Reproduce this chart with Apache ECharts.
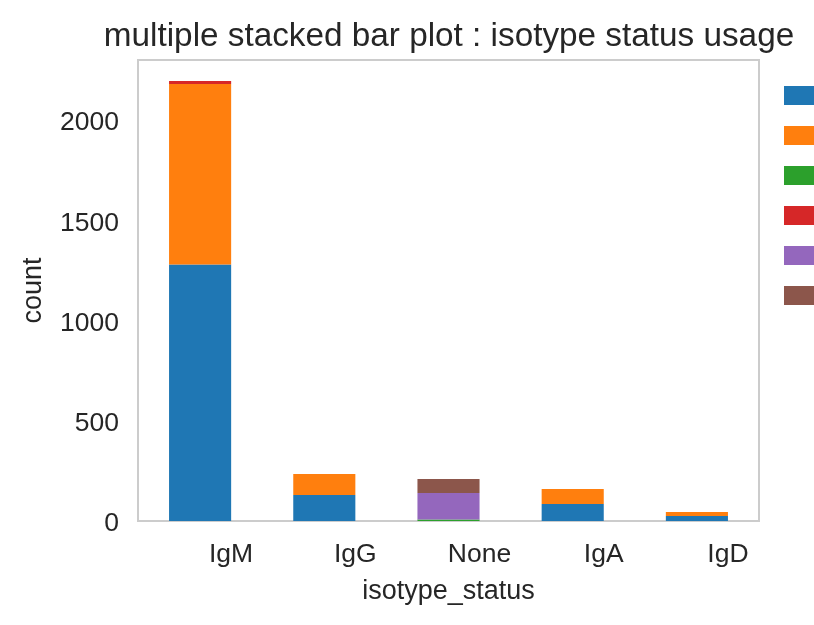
<!DOCTYPE html>
<html>
<head>
<meta charset="utf-8">
<script src="https://cdn.jsdelivr.net/npm/echarts@6/dist/echarts.min.js"></script>
<style>
  html, body { margin: 0; padding: 0; background: #fff; }
  #chart { width: 814px; height: 625px; }
</style>
</head>
<body>
<div id="chart"></div>
<script>
// categories on the x axis
var isotypes = ['IgM', 'IgG', 'None', 'IgA', 'IgD'];

// one array per stacked series (order = stacking order, bottom first)
var seriesNames = ['group_1', 'group_2', 'group_3', 'group_4', 'group_5', 'group_6'];
var group1 = [1280, 130, 0, 85, 25];
var group2 = [900, 105, 0, 75, 20];
var group3 = [0, 0, 8, 0, 0];
var group4 = [15, 0, 0, 0, 0];
var group5 = [0, 0, 132, 0, 0];
var group6 = [0, 0, 70, 0, 0];

var yTicks = [0, 500, 1000, 1500, 2000];

var colors = ['#1f77b4', '#ff7f0e', '#2ca02c', '#d62728', '#9467bd', '#8c564b'];
var textColor = '#262626';
var font = 'Liberation Sans, Arial, sans-serif';

var allData = [group1, group2, group3, group4, group5, group6];
var series = [];
for (var i = 0; i < allData.length; i++) {
    series.push({
        name: seriesNames[i],
        type: 'bar',
        stack: 'total',
        barWidth: '50%',
        data: allData[i],
        itemStyle: { color: colors[i] }
    });
}

var option = {
    animation: false,
    textStyle: { fontFamily: font, color: textColor },
    title: {
        text: 'multiple stacked bar plot : isotype status usage',
        left: 444,
        textAlign: 'center',
        top: 15,
        textStyle: { fontFamily: font, fontSize: 33.3, fontWeight: 'normal', color: textColor }
    },
    legend: {
        orient: 'vertical',
        left: 779,
        top: 81,
        itemWidth: 30,
        itemHeight: 19,
        itemGap: 21,
        icon: 'rect',
        formatter: function () { return ''; },
        textStyle: { fontSize: 10, padding: 0 },
        data: seriesNames
    },
    grid: {
        left: 138,
        right: 55,
        top: 60,
        bottom: 104,
        show: true,
        borderColor: '#cccccc',
        borderWidth: 2,
        containLabel: false
    },
    xAxis: {
        type: 'category',
        data: isotypes,
        name: 'isotype_status',
        nameLocation: 'middle',
        nameGap: 57,
        nameTextStyle: { fontSize: 27, color: textColor },
        axisLine: { show: false },
        axisTick: { show: false },
        splitLine: { show: false },
        axisLabel: {
            fontSize: 26.5,
            color: textColor,
            margin: 20,
            padding: [0, 0, 0, 62]
        }
    },
    yAxis: {
        type: 'value',
        min: 0,
        max: 2300,
        interval: 500,
        name: 'count',
        nameLocation: 'middle',
        nameGap: 91,
        nameTextStyle: { fontSize: 27, color: textColor },
        axisLine: { show: false },
        axisTick: { show: false },
        splitLine: { show: false },
        axisLabel: {
            fontSize: 26.5,
            color: textColor,
            margin: 19,
            showMaxLabel: false,
            formatter: function (v) { return yTicks.indexOf(v) >= 0 ? '{t|' + v + '}' : ''; },
            rich: {
                t: { fontSize: 26.5, color: textColor, padding: [6, 0, 0, 0] }
            }
        }
    },
    series: series
};

var myChart = echarts.init(document.getElementById('chart'), null, { renderer: 'canvas' });
myChart.setOption(option);
</script>
</body>
</html>
